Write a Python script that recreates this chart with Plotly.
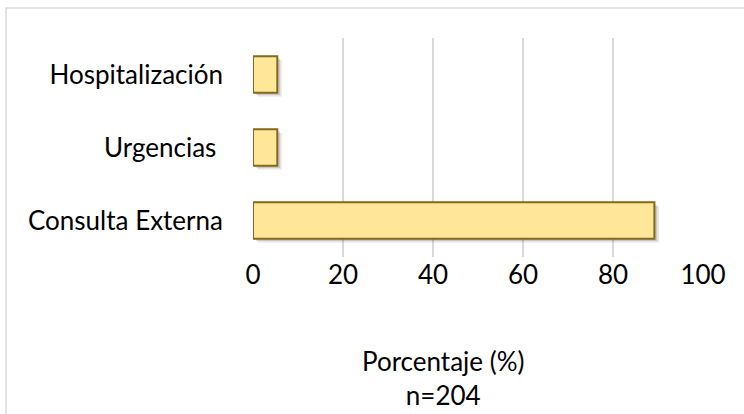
import plotly.graph_objects as go

# Service area share of patients (percent), n=204
categorias = ["Consulta Externa", "Urgencias\u00a0", "Hospitalización"]
porcentajes = [89.2, 5.4, 5.4]
ticks_x = [0, 20, 40, 60, 80, 100]

FONT = "Lato, Carlito, Calibri, sans-serif"
GRID = "#D9D9D9"
FS = 26

fig = go.Figure()

# soft drop shadow under each bar
for shift, alpha in [(1.0, 0.10), (0.6, 0.12)]:
    fig.add_trace(go.Bar(
        y=categorias, x=porcentajes, orientation="h",
        base=shift, width=0.5, offset=-0.25 - 0.05 * shift,
        marker=dict(color=f"rgba(0,0,0,{alpha})", line=dict(width=0)),
        hoverinfo="skip", showlegend=False,
    ))

fig.add_trace(go.Bar(
    y=categorias, x=porcentajes, orientation="h",
    width=0.5, offset=-0.25,
    marker=dict(color="#FFE699", line=dict(color="#85681A", width=2)),
    showlegend=False,
))

W, H = 744, 414
L, R, T, B = 253, 41, 38, 157
pw, ph = W - L - R, H - T - B


def px_x(p):
    return (p - L) / pw


def px_y(p):
    return (H - B - p) / ph


fig.update_layout(
    width=W, height=H,
    margin=dict(l=L, r=R, t=T, b=B),
    paper_bgcolor="white", plot_bgcolor="white",
    barmode="overlay",
    font=dict(family=FONT, size=FS, color="#000000"),
    xaxis=dict(
        range=[0, 100], tickvals=ticks_x, showgrid=True,
        gridcolor=GRID, gridwidth=1.5, zeroline=False,
        showline=False, ticks="", ticklabelstandoff=0,
        tickfont=dict(size=FS),
    ),
    yaxis=dict(
        showgrid=False, zeroline=False, showline=False,
        ticks="", ticklabelstandoff=29, tickfont=dict(size=FS),
    ),
    shapes=[dict(
        type="rect", xref="paper", yref="paper", layer="below",
        x0=px_x(6), x1=px_x(W + 10),
        y0=px_y(H + 10), y1=px_y(8),
        line=dict(color=GRID, width=1.5), fillcolor="rgba(0,0,0,0)",
    )],
    annotations=[dict(
        text="Porcentaje (%)<br>n=204", showarrow=False,
        xref="paper", yref="paper",
        x=px_x(443), y=px_y(343),
        xanchor="center", yanchor="top",
        font=dict(size=FS), align="center",
    )],
)

fig.write_html("out.html")
